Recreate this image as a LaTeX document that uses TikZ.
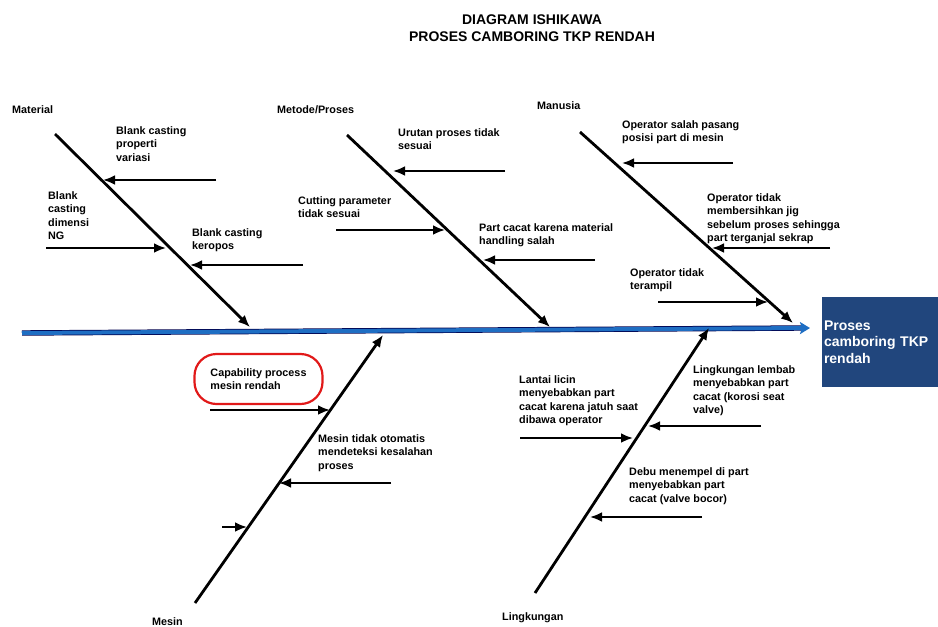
\documentclass[tikz,border=0pt]{standalone}
\usepackage{fontspec}
\setmainfont{Liberation Sans}
\usetikzlibrary{arrows.meta,calc}

\definecolor{bleuaxe}{RGB}{30,110,195}
\definecolor{bleuboite}{RGB}{33,70,125}
\definecolor{rougecadre}{RGB}{225,25,25}

\begin{document}
\begin{tikzpicture}[x=1pt,y=-1pt]

% définition des styles
\tikzstyle{arete}=[-{Latex[length=12pt,width=10pt]},line width=2.8pt]
\tikzstyle{fleche}=[-{Latex[length=12pt,width=10pt]},line width=2.8pt]
\tikzstyle{axe}=[-{Stealth[length=10pt,width=12pt,inset=2pt]},line width=4pt,draw=bleuaxe]
\tikzstyle{texte}=[anchor=north west,inner sep=0pt,align=left,font=\fontsize{10.8}{13.6}\selectfont\bfseries]
\tikzstyle{titre}=[anchor=north,inner sep=0pt,align=center,font=\fontsize{14}{16.7}\selectfont\bfseries]
\tikzstyle{effet}=[fill=bleuboite,text=white,inner xsep=2pt,inner ysep=0pt,text width=112pt,minimum width=116pt,minimum height=90pt,align=left,font=\fontsize{14}{16.7}\selectfont\bfseries]
\tikzstyle{cadre}=[draw=rougecadre,line width=2.2pt,rounded corners=22pt,inner xsep=16pt,minimum height=50pt,align=left,font=\fontsize{10.8}{13.6}\selectfont\bfseries]

\useasboundingbox (0,0) rectangle (938,627);

% le titre
\node [titre] (titre) at (532,14.5) {DIAGRAM ISHIKAWA\\PROSES CAMBORING TKP RENDAH};

% la tête du poisson
\node [effet] (effet) at (880,342) {Proses\\camboring TKP\\rendah};

% l'arête centrale
\coordinate (axeA) at (22,333);
\coordinate (axeB) at (810,328);
\draw[draw=black!70!blue,line width=5.4pt] (axeA) -- ($(axeB)+(-9,0)$);
\draw[axe] (axeA) -- (axeB);

% les catégories
\node [texte] (material) at (12,105) {Material};
\node [texte] (metode) at (277,105) {Metode/Proses};
\node [texte] (manusia) at (537,101) {Manusia};
\node [texte] (mesin) at (152,617) {Mesin};
\node [texte] (lingkungan) at (502,612) {Lingkungan};

% les grandes arêtes
\coordinate (matA) at (55,134);  \coordinate (matB) at (250,327);
\coordinate (metA) at (347,135); \coordinate (metB) at (550,327);
\coordinate (manA) at (580,132); \coordinate (manB) at (793,323);
\coordinate (mesA) at (195,603); \coordinate (mesB) at (383,335);
\coordinate (linA) at (535,593); \coordinate (linB) at (709,328);
\draw[arete] (matA) -- (matB);
\draw[arete] (metA) -- (metB);
\draw[arete] (manA) -- (manB);
\draw[arete] (mesA) -- (mesB);
\draw[arete] (linA) -- (linB);

% Material
\node [texte] (mat1) at (116,126) {Blank casting\\properti\\variasi};
\node [texte] (mat2) at (48,191) {Blank\\casting\\dimensi\\NG};
\node [texte] (mat3) at (192,228) {Blank casting\\keropos};
\coordinate (mat1a) at (216,180); \coordinate (mat1b) at (103,180);
\coordinate (mat2a) at (46,248);  \coordinate (mat2b) at (166,248);
\coordinate (mat3a) at (303,265); \coordinate (mat3b) at (190,265);
\draw[fleche] (mat1a) -- (mat1b);
\draw[fleche] (mat2a) -- (mat2b);
\draw[fleche] (mat3a) -- (mat3b);

% Metode/Proses
\node [texte] (met1) at (398,128) {Urutan proses tidak\\sesuai};
\node [texte] (met2) at (298,196) {Cutting parameter\\tidak sesuai};
\node [texte] (met3) at (479,223) {Part cacat karena material\\handling salah};
\coordinate (met1a) at (505,171); \coordinate (met1b) at (393,171);
\coordinate (met2a) at (336,230); \coordinate (met2b) at (445,230);
\coordinate (met3a) at (595,260); \coordinate (met3b) at (483,260);
\draw[fleche] (met1a) -- (met1b);
\draw[fleche] (met2a) -- (met2b);
\draw[fleche] (met3a) -- (met3b);

% Manusia
\node [texte] (man1) at (622,120) {Operator salah pasang\\posisi part di mesin};
\node [texte] (man2) at (707,193) {Operator tidak\\membersihkan jig\\sebelum proses sehingga\\part terganjal sekrap};
\node [texte] (man3) at (630,268) {Operator tidak\\terampil};
\coordinate (man1a) at (733,163); \coordinate (man1b) at (622,163);
\coordinate (man2a) at (830,248); \coordinate (man2b) at (712,248);
\coordinate (man3a) at (658,302); \coordinate (man3b) at (768,302);
\draw[fleche] (man1a) -- (man1b);
\draw[fleche] (man2a) -- (man2b);
\draw[fleche] (man3a) -- (man3b);

% Mesin
\node [cadre] (mes1) at (258.5,379) {Capability process\\mesin rendah};
\node [texte] (mes2) at (318,434) {Mesin tidak otomatis\\mendeteksi kesalahan\\proses};
\coordinate (mes1a) at (210,410); \coordinate (mes1b) at (330,410);
\coordinate (mes2a) at (391,483); \coordinate (mes2b) at (279,483);
\coordinate (mes3a) at (222,527); \coordinate (mes3b) at (247,527);
\draw[fleche] (mes1a) -- (mes1b);
\draw[fleche] (mes2a) -- (mes2b);
\draw[fleche] (mes3a) -- (mes3b);

% Lingkungan
\node [texte] (lin1) at (519,375) {Lantai licin\\menyebabkan part\\cacat karena jatuh saat\\dibawa operator};
\node [texte] (lin2) at (693,365) {Lingkungan lembab\\menyebabkan part\\cacat (korosi seat\\valve)};
\node [texte] (lin3) at (629,467) {Debu menempel di part\\menyebabkan part\\cacat (valve bocor)};
\coordinate (lin1a) at (520,438); \coordinate (lin1b) at (633,438);
\coordinate (lin2a) at (761,426); \coordinate (lin2b) at (648,426);
\coordinate (lin3a) at (702,517); \coordinate (lin3b) at (590,517);
\draw[fleche] (lin1a) -- (lin1b);
\draw[fleche] (lin2a) -- (lin2b);
\draw[fleche] (lin3a) -- (lin3b);

\end{tikzpicture}
\end{document}
